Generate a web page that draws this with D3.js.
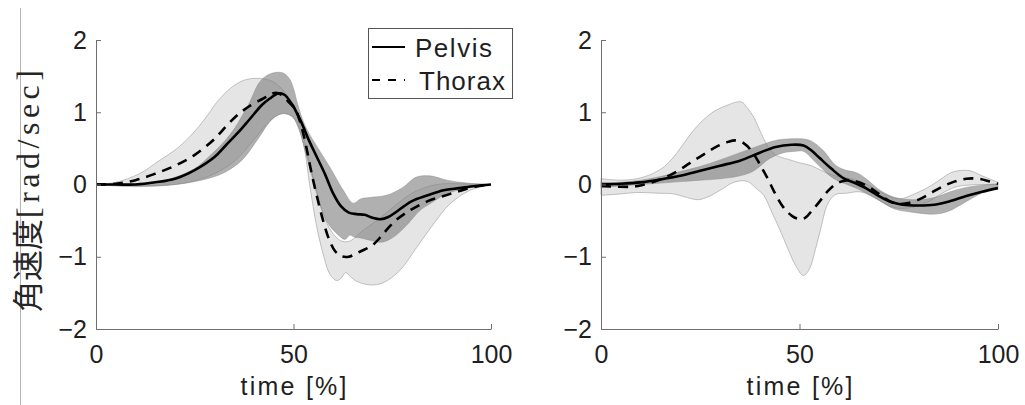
<!DOCTYPE html>
<html>
<head>
<meta charset="utf-8">
<script src="https://cdn.jsdelivr.net/npm/d3@7"></script>
<style>
  html, body { margin: 0; padding: 0; background: #fff; }
  svg { display: block; }
</style>
</head>
<body>
<svg id="chart" width="1025" height="405"></svg>
<script>
// Axis ticks and labels
const timeTicks = [0, 50, 100];
const valueTicks = [-2, -1, 0, 1, 2];
const seriesNames = ["Pelvis", "Thorax"];
const xLabel = "time [%]";
const yLabelCJK = "角速度";
const yLabelUnit = "[rad/sec]";

// Panel 1: [time %, angular velocity rad/s]
const pelvisMean1 = [[0,0],[5,0],[10,0],[15,0.03],[20,0.08],[25,0.2],[30,0.38],[33,0.55],[36,0.72],[39,0.91],[42,1.1],[44,1.19],[46,1.26],[47,1.26],[48,1.23],[49,1.16],[50,1.08],[51,0.97],[52,0.86],[54,0.6],[56,0.37],[58,0.14],[60,-0.12],[62,-0.3],[64,-0.39],[66,-0.41],[68,-0.42],[70,-0.46],[72,-0.48],[74,-0.45],[76,-0.38],[78,-0.3],[80,-0.23],[84,-0.15],[88,-0.08],[92,-0.05],[96,-0.02],[100,0]];
const pelvisUpper1 = [[0,0],[10,0.01],[16,0.04],[20,0.1],[25,0.22],[28.5,0.38],[32.7,0.61],[35,0.77],[37,0.95],[39,1.15],[41.2,1.4],[43,1.5],[45.4,1.55],[47.5,1.54],[49,1.46],[50,1.33],[51,1.12],[52.5,0.87],[54,0.7],[56,0.52],[59.2,0.24],[62.6,-0.08],[65.1,-0.26],[67,-0.2],[69.3,-0.18],[73.5,-0.15],[77.7,-0.04],[81,0.1],[84.5,0.12],[88.8,0.06],[93.8,0.02],[100,0]];
const pelvisLower1 = [[0,0],[10,-0.02],[15,-0.02],[20,0],[25,0.04],[30,0.11],[33,0.18],[37,0.34],[41,0.63],[44,0.87],[46,0.96],[48,0.98],[50,0.92],[51.5,0.75],[53,0.45],[54.5,0.15],[56,-0.15],[57.5,-0.4],[59,-0.56],[61,-0.68],[63,-0.76],[64.3,-0.7],[65.5,-0.73],[67,-0.74],[70,-0.78],[72,-0.8],[74,-0.77],[76,-0.7],[78,-0.6],[80,-0.48],[82,-0.36],[85,-0.25],[88,-0.15],[92,-0.07],[96,-0.02],[100,0]];
const thoraxMean1 = [[0,0],[5,0.01],[10,0.06],[15,0.15],[20,0.26],[25,0.41],[30,0.63],[33,0.81],[36,0.97],[39,1.09],[42,1.18],[44,1.24],[45.5,1.27],[47,1.24],[49,1.13],[50.5,1.04],[51.5,0.9],[52.5,0.7],[53.5,0.45],[54.6,0.15],[56,-0.18],[57.5,-0.5],[59,-0.76],[60.5,-0.92],[62,-0.99],[64,-1.0],[66,-0.95],[68,-0.9],[70,-0.84],[72,-0.73],[74,-0.6],[76,-0.49],[78,-0.41],[80,-0.34],[84,-0.23],[88,-0.16],[92,-0.09],[96,-0.03],[100,0]];
const thoraxUpper1 = [[0,0],[5,0.03],[11,0.15],[16,0.33],[21,0.52],[26,0.8],[28.5,0.98],[30.6,1.14],[34,1.33],[37.3,1.44],[40.7,1.47],[44,1.44],[46,1.38],[48,1.26],[50,1.06],[52,0.76],[54,0.32],[56,-0.12],[58,-0.48],[60,-0.68],[62,-0.78],[63.8,-0.79],[65.5,-0.74],[67,-0.66],[69,-0.58],[72,-0.46],[76,-0.28],[80,-0.12],[84,-0.03],[88,0.01],[92,0.01],[100,0]];
const thoraxLower1 = [[0,0],[5,-0.02],[10,-0.03],[15,-0.02],[20,0],[25,0.05],[30,0.15],[35,0.32],[40,0.62],[44,0.88],[47,0.98],[49.5,0.95],[51,0.82],[52.5,0.57],[54.2,-0.04],[55.9,-0.59],[57.5,-0.96],[59.2,-1.24],[60.9,-1.33],[62,-1.3],[63.2,-1.22],[64.5,-1.28],[66,-1.34],[69.4,-1.39],[72.7,-1.36],[76.9,-1.19],[81.2,-0.87],[85.4,-0.55],[89.6,-0.27],[94.7,-0.08],[100,0]];

// Panel 2
const pelvisMean2 = [[0,0],[5,0.01],[10,0.03],[15,0.07],[20,0.12],[25,0.19],[30,0.26],[35,0.33],[40,0.44],[44,0.52],[48,0.55],[51,0.54],[53,0.47],[55,0.37],[58,0.22],[61,0.09],[64,0.02],[67,-0.06],[70,-0.16],[73,-0.24],[76,-0.28],[80,-0.29],[84,-0.28],[88,-0.23],[92,-0.16],[96,-0.1],[100,-0.05]];
const pelvisUpper2 = [[0,0.03],[5,0.03],[10,0.06],[15,0.11],[20,0.18],[25,0.25],[30,0.34],[35,0.44],[40,0.54],[44,0.61],[47,0.63],[51,0.63],[53,0.6],[56,0.47],[59,0.27],[61.5,0.2],[64.5,0.16],[67,0.07],[70,-0.07],[73,-0.16],[76,-0.2],[80,-0.21],[84,-0.18],[88,-0.1],[92,-0.04],[96,-0.01],[100,0.01]];
const pelvisLower2 = [[0,-0.04],[5,-0.02],[10,0],[15,0.02],[20,0.04],[25,0.06],[30,0.08],[35,0.12],[38.5,0.19],[42.5,0.36],[46,0.44],[49,0.46],[51,0.46],[54,0.31],[57,0.15],[59,0.07],[61.5,0.01],[65,-0.07],[70,-0.22],[74,-0.34],[78,-0.38],[84,-0.41],[87.5,-0.37],[90,-0.3],[92.5,-0.22],[97,-0.09],[100,-0.05]];
const thoraxMean2 = [[0,-0.02],[4,-0.03],[8,-0.03],[11,0],[14,0.05],[17,0.12],[20,0.21],[23,0.32],[26,0.42],[29,0.52],[32,0.59],[34,0.61],[36,0.57],[38,0.46],[40,0.28],[42,0.08],[44,-0.14],[46,-0.32],[48,-0.43],[50,-0.48],[51.5,-0.46],[53,-0.37],[55,-0.24],[57,-0.1],[59,0],[61,0.05],[63,0.06],[65,0.03],[67,-0.02],[69,-0.09],[71,-0.17],[73,-0.24],[75,-0.27],[77,-0.26],[80,-0.21],[83,-0.12],[86,-0.03],[89,0.04],[92,0.08],[95,0.08],[98,0.04],[100,0.01]];
const thoraxUpper2 = [[0,0.08],[5,0.06],[9,0.08],[13,0.15],[16,0.25],[18.3,0.38],[21,0.58],[23.3,0.75],[26.5,0.93],[29,1.03],[32,1.1],[34,1.14],[35.5,1.14],[37,1.05],[38.5,0.93],[40,0.75],[42,0.53],[44,0.41],[47,0.35],[50,0.3],[53,0.26],[56,0.18],[59,0.12],[63,0.08],[67,0],[71,-0.12],[75,-0.2],[79,-0.13],[83,-0.02],[86,0.09],[88,0.16],[90,0.19],[93,0.19],[96,0.12],[100,0.03]];
const thoraxLower2 = [[0,-0.15],[5,-0.13],[9,-0.11],[14,-0.12],[18.3,-0.13],[21,-0.17],[24.5,-0.21],[27,-0.17],[30,-0.08],[33,0.02],[35,0.05],[37,0.04],[39,-0.05],[41,-0.15],[43,-0.38],[45,-0.62],[47,-0.88],[49,-1.12],[51,-1.26],[52.5,-1.17],[54,-0.9],[55.5,-0.58],[57,-0.28],[59,-0.14],[62,-0.12],[65,-0.1],[68,-0.15],[72,-0.28],[75,-0.33],[78,-0.32],[82,-0.25],[86,-0.12],[89,-0.04],[92,-0.01],[96,0],[100,0]];

const panels = [
  { left: 96, right: 491,
    pelvis: { mean: pelvisMean1, upper: pelvisUpper1, lower: pelvisLower1 },
    thorax: { mean: thoraxMean1, upper: thoraxUpper1, lower: thoraxLower1 } },
  { left: 601, right: 998,
    pelvis: { mean: pelvisMean2, upper: pelvisUpper2, lower: pelvisLower2 },
    thorax: { mean: thoraxMean2, upper: thoraxUpper2, lower: thoraxLower2 } }
];

const svg = d3.select("#chart");
const plotTop = 40, plotBottom = 329;
const y = d3.scaleLinear().domain([-2, 2]).range([plotBottom, plotTop]);

const tickFont = "'Liberation Sans', Arial, sans-serif";
const axisColor = "#6f6f6f";
const textColor = "#1f1f1f";

// thin frame line on the far left
svg.append("line")
  .attr("x1", 20.5).attr("x2", 20.5).attr("y1", 8).attr("y2", 405)
  .attr("stroke", "#b4b4b4").attr("stroke-width", 1);

panels.forEach(p => {
  const x = d3.scaleLinear().domain([0, 100]).range([p.left, p.right]);
  const line = d3.line().x(d => x(d[0])).y(d => y(d[1])).curve(d3.curveCatmullRom.alpha(0.5));
  const band = s => {
    const up = line(s.upper);
    const lo = line(s.lower.slice().reverse());
    return up + "L" + lo.slice(1) + "Z";
  };
  const g = svg.append("g");

  // spread bands: thorax (light) beneath pelvis (dark)
  g.append("path").attr("d", band(p.thorax))
    .attr("fill", "#d0d0d0").attr("fill-opacity", 0.55)
    .attr("stroke", "#a0a0a0").attr("stroke-width", 0.8).attr("stroke-opacity", 0.8);
  g.append("path").attr("d", band(p.pelvis))
    .attr("fill", "#7f7f7f").attr("fill-opacity", 0.62)
    .attr("stroke", "#8a8a8a").attr("stroke-width", 0.7).attr("stroke-opacity", 0.7);

  // mean curves
  g.append("path").attr("d", line(p.pelvis.mean))
    .attr("fill", "none").attr("stroke", "#000").attr("stroke-width", 2.6)
    .attr("stroke-linejoin", "round");
  g.append("path").attr("d", line(p.thorax.mean))
    .attr("fill", "none").attr("stroke", "#000").attr("stroke-width", 2.6)
    .attr("stroke-dasharray", "10,7");

  // axes with inward ticks
  const ax = g.append("g").attr("transform", `translate(0,${plotBottom})`)
    .call(d3.axisBottom(x).tickValues(timeTicks).tickSize(-5).tickSizeOuter(0).tickPadding(16).tickFormat(d3.format("d")));
  const ay = g.append("g").attr("transform", `translate(${p.left},0)`)
    .call(d3.axisLeft(y).tickValues(valueTicks).tickSize(-5).tickSizeOuter(0).tickPadding(9)
      .tickFormat(d => d < 0 ? "\u2212" + Math.abs(d) : String(d)));
  [ax, ay].forEach(a => {
    a.select(".domain").attr("stroke", axisColor);
    a.selectAll(".tick line").attr("stroke", axisColor);
    a.selectAll(".tick text").attr("fill", textColor)
      .style("font-family", tickFont).style("font-size", "25px");
  });

  const mid = (p.left + p.right) / 2;
  g.append("text")
    .attr("x", mid - 53).attr("y", 395)
    .attr("textLength", 106).attr("lengthAdjust", "spacing")
    .style("font-family", tickFont).style("font-size", "25px")
    .attr("fill", textColor)
    .text(xLabel);
});

// y axis title, reading bottom to top
const yl = svg.append("g").attr("transform", "translate(39,190) rotate(-90)");
yl.append("text").attr("x", -122).attr("y", 0)
  .style("font-family", "'Noto Sans CJK JP', sans-serif").style("font-size", "31px")
  .attr("fill", "#262626").text(yLabelCJK);
yl.append("text").attr("x", -28).attr("y", 0)
  .attr("textLength", 148).attr("lengthAdjust", "spacing")
  .style("font-family", "'Liberation Serif', serif").style("font-size", "32px")
  .attr("fill", "#262626").text(yLabelUnit);

// legend
const lg = svg.append("g");
lg.append("rect").attr("x", 368.5).attr("y", 28.5).attr("width", 144).attr("height", 70)
  .attr("fill", "#fff").attr("stroke", "#555").attr("stroke-width", 1);
lg.append("line").attr("x1", 372).attr("x2", 405).attr("y1", 47).attr("y2", 47)
  .attr("stroke", "#000").attr("stroke-width", 2.2);
lg.append("line").attr("x1", 372).attr("x2", 405).attr("y1", 80).attr("y2", 80)
  .attr("stroke", "#000").attr("stroke-width", 2.2).attr("stroke-dasharray", "8,8");
lg.append("text").attr("x", 415).attr("y", 57).attr("textLength", 77).attr("lengthAdjust", "spacing")
  .style("font-family", tickFont).style("font-size", "26px").attr("fill", textColor).text(seriesNames[0]);
lg.append("text").attr("x", 419).attr("y", 90).attr("textLength", 86).attr("lengthAdjust", "spacing")
  .style("font-family", tickFont).style("font-size", "26px").attr("fill", textColor).text(seriesNames[1]);
</script>
</body>
</html>
